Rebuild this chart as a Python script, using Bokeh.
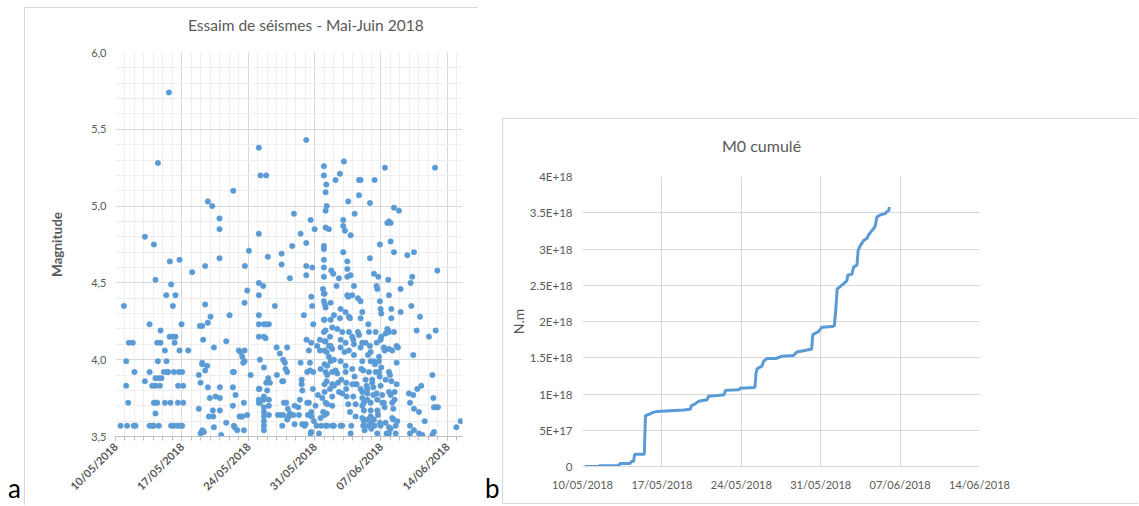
import math
from bokeh.plotting import figure
from bokeh.layouts import row, column
from bokeh.models import FixedTicker, CustomJSTickFormatter, Range1d, Div, Spacer
from bokeh.embed import file_html
from bokeh.resources import INLINE

# ---------------- data ----------------
tick_days = [0, 7, 14, 21, 28, 35]          # days after 10/05/2018
tick_labels = ["10/05/2018", "17/05/2018", "24/05/2018", "31/05/2018", "07/06/2018", "14/06/2018"]

mag_ticks = [3.5, 4.0, 4.5, 5.0, 5.5, 6.0]
m0_ticks = [0, 0.5, 1.0, 1.5, 2.0, 2.5, 3.0, 3.5, 4.0]   # in 1E+18 N.m
m0_tick_labels = ["0", "5E+17", "1E+18", "1.5E+18", "2E+18", "2.5E+18", "3E+18", "3.5E+18", "4E+18"]

# earthquakes: day offset from 10/05/2018, magnitude
quake_day = [
    0.88, 1.13, 1.13, 1.34, 1.41, 1.83, 0.53, 1.23, 1.93, 2.11, 2.00,
    3.10, 3.10, 3.59, 3.59, 3.59, 3.87, 4.05, 4.05, 4.22, 3.87, 4.22, 4.68, 4.05, 4.22, 4.40, 4.22, 4.47, 4.47, 4.40, 4.75, 4.22, 4.57, 4.85, 4.57, 4.75,
    5.21, 5.35, 5.38, 5.10, 5.45, 5.56, 5.21, 5.63, 5.73, 5.87, 6.05, 5.70, 6.05, 6.33, 6.23, 5.80, 5.87, 6.16, 6.51, 6.79, 7.03, 6.33, 6.75, 6.75, 6.16, 6.68, 7.03, 6.61, 7.14, 6.58, 7.14, 6.96, 7.67, 8.09,
    8.79, 8.97, 9.15, 9.32, 8.79, 8.97, 8.90, 9.15, 9.15, 9.15, 9.25, 9.46, 9.46, 9.46, 9.67, 9.74, 9.74, 9.74, 9.85, 9.95, 10.02, 10.20, 10.27, 10.31, 10.38, 10.55, 10.38, 10.97, 10.97, 10.97, 11.01, 11.01, 11.01, 11.15,
    11.68, 11.68, 12.03, 12.42, 12.38, 12.49, 12.38, 12.38, 12.49, 12.56, 12.66, 12.84, 13.01, 13.19, 13.08, 13.26, 13.37, 13.47, 13.61, 13.37, 13.65, 13.61, 13.61, 13.54, 13.54, 13.89, 13.89, 14.07, 14.25,
    15.12, 15.12, 15.12, 15.12, 15.12, 15.12, 15.12, 15.23, 15.12, 15.19, 15.12, 15.23, 15.12, 15.30, 15.90, 15.58, 15.65, 15.90, 16.18, 15.65, 15.83, 15.65, 15.65, 15.65, 15.65, 15.65, 15.65, 15.65, 15.65, 15.65, 15.90, 16.00, 16.07, 16.11, 16.18, 16.18, 16.18, 16.29,
    16.81, 16.99, 17.02, 17.13, 17.34, 17.41, 17.69, 17.52, 17.52, 17.59, 17.69, 17.59, 17.69, 17.76, 17.87, 17.94, 18.01, 18.11, 18.11, 18.11, 18.18, 18.40, 18.29, 18.40, 18.64, 18.75, 18.82, 18.89, 18.89,
    19.28, 19.35, 19.45, 19.52, 19.52, 19.63, 19.63, 19.70, 19.70, 19.87, 19.94, 20.05, 20.12, 20.12, 20.12, 20.12, 20.15, 20.22, 20.22, 20.40, 20.30, 20.40, 20.51, 20.51, 20.58, 20.58, 20.65, 20.65, 20.65, 20.65, 20.68, 20.75, 20.75, 20.82, 20.86, 20.86, 20.93, 21.00, 21.10, 21.21,
    21.28, 21.35, 21.46, 21.56, 21.56, 21.63, 21.63, 21.70, 21.81, 21.88,
    21.91, 21.98, 21.98, 21.98, 21.98, 21.98, 21.98, 21.98, 21.98, 22.05,
    21.98, 22.09, 22.16, 21.98, 22.05, 21.98, 22.16, 22.05, 22.16, 22.05,
    22.27, 22.05, 22.34, 22.16, 22.34, 22.05, 22.27, 22.05, 22.16, 22.34,
    22.05, 22.27, 22.16, 22.34, 22.23, 22.16, 22.27, 22.16, 22.16, 22.51,
    22.51, 22.51, 22.62, 22.62, 22.69, 22.69, 22.86, 22.69, 22.86, 22.69,
    22.76, 22.86, 22.86, 23.04, 22.86, 22.86, 22.86, 23.04, 22.97, 23.04, 23.04,
    23.21, 23.21, 23.39, 23.32, 23.39, 23.46, 23.57, 23.57, 23.67, 23.67,
    23.74, 23.74, 23.74, 23.81, 23.74, 23.92, 23.74, 23.92, 23.92, 24.02,
    24.02, 24.02, 24.20, 24.09, 24.16, 24.27, 24.27, 24.27, 24.27, 24.34,
    24.34, 24.38, 24.45, 24.45, 24.45, 24.45, 24.55, 24.55, 24.55, 24.62,
    24.73, 24.62, 24.62, 24.73, 24.80, 24.80, 24.87, 24.80, 24.97, 24.97,
    25.08, 24.97, 24.97, 25.08, 25.15, 25.15, 25.15, 25.22, 25.22, 25.33,
    25.43, 25.33, 25.33,
    25.68, 25.85, 25.68, 25.57, 25.85, 25.57, 25.68, 25.85, 26.03, 26.03,
    25.85, 26.03, 25.92, 26.13, 25.85, 26.03, 26.03, 26.20, 26.03, 26.20,
    26.03, 26.20, 26.13, 26.27, 26.38, 26.38, 26.49, 26.56, 26.56, 26.56,
    26.56, 26.66, 26.63, 26.73, 26.66, 26.73, 26.84, 26.84, 26.84, 26.91,
    26.91, 26.91, 26.91, 26.91, 26.98, 26.98, 27.08, 27.08, 27.19, 27.19,
    27.26, 27.26, 27.37, 27.26, 27.33, 27.33, 27.44, 27.44, 27.54, 27.61,
    27.54, 27.54, 27.61, 27.61, 27.68, 27.61, 27.72, 27.79, 27.79, 27.79,
    27.86, 27.89, 27.96, 27.89, 27.89, 27.96, 28.03, 27.96, 28.03, 28.03,
    27.96, 28.14, 28.14,
    28.31, 28.39, 28.31, 28.39, 28.42, 28.49, 28.49, 28.49, 28.60, 28.67,
    28.77, 28.84, 28.67, 28.84, 29.02, 28.77, 28.84, 28.84, 28.84, 28.95,
    28.84, 29.02, 28.84, 29.02, 28.84, 29.02, 29.09, 29.09, 29.09, 29.19,
    29.19, 29.30, 29.19, 29.30, 29.37, 29.37, 29.37, 29.44, 29.44, 29.55,
    29.55, 29.65, 29.65, 29.79, 29.65, 29.72, 29.90, 30.07, 30.07,
    30.78, 30.95, 31.06, 31.06, 31.06, 31.13, 31.20, 31.30, 31.41, 31.41,
    31.48, 31.48, 31.48, 31.76, 31.83, 32.01, 32.01, 32.11, 32.25, 32.36,
    32.61, 33.06, 33.42, 33.52, 33.59, 33.77, 34.01, 33.59, 33.42, 33.70,
    33.77, 33.94, 35.95, 36.41,
]
quake_mag = [
    4.35, 3.99, 3.83, 3.72, 4.11, 4.11, 3.57, 3.57, 3.57, 3.57, 3.92,
    4.80, 3.86, 4.23, 3.92, 3.57, 3.57, 3.57, 4.75, 4.52, 3.83, 3.83, 3.83, 3.72, 3.72, 3.72, 3.65, 5.28, 3.99, 4.11, 4.11, 3.88, 3.88, 3.88, 3.57, 4.19,
    4.06, 4.42, 3.99, 3.92, 3.92, 3.92, 3.72, 5.74, 4.64, 4.49, 4.35, 4.15, 4.15, 4.15, 4.11, 3.72, 3.57, 3.57, 3.57, 3.57, 3.57, 4.42, 4.65, 4.06, 3.92, 3.92, 3.92, 3.83, 3.83, 3.72, 3.72, 4.23, 4.06, 4.57,
    3.68, 3.52, 3.54, 3.53, 3.90, 3.85, 4.22, 4.22, 3.98, 3.97, 4.13, 4.36, 4.61, 3.93, 3.96, 5.03, 4.24, 3.82, 3.63, 3.75, 4.28, 5.00, 3.67, 3.63, 4.08, 3.76, 3.56, 4.92, 4.85, 4.66, 3.82, 3.75, 3.67, 3.51,
    4.12, 3.59, 4.29, 5.10, 3.92, 3.92, 3.82, 3.70, 3.57, 3.56, 3.77, 3.54, 4.06, 4.05, 3.63, 3.63, 3.63, 3.98, 3.99, 4.02, 4.61, 4.37, 4.06, 3.72, 3.54, 4.45, 3.64, 4.71, 3.90,
    5.38, 4.82, 4.50, 4.42, 4.29, 4.23, 4.15, 4.00, 3.81, 3.81, 3.74, 3.72, 3.72, 5.20, 5.20, 4.48, 4.23, 4.23, 4.23, 4.15, 4.14, 3.95, 3.76, 3.74, 3.69, 3.66, 3.63, 3.60, 3.57, 3.54, 3.85, 3.80, 4.67, 3.88, 3.74, 3.70, 3.64, 3.85,
    4.35, 4.08, 3.90, 3.64, 4.04, 3.64, 3.64, 4.69, 4.62, 3.86, 3.86, 3.57, 4.00, 3.72, 3.98, 3.94, 3.72, 4.08, 3.92, 3.61, 3.68, 4.53, 3.63, 3.65, 4.74, 3.64, 4.95, 3.70, 3.58,
    3.69, 3.64, 3.74, 4.82, 3.98, 3.87, 3.84, 3.80, 3.58, 4.29, 3.57, 3.58, 5.43, 4.76, 4.61, 4.55, 4.13, 3.92, 3.72, 3.72, 3.64, 4.06, 3.98, 3.93, 4.91, 3.52, 3.53, 4.41, 4.11, 3.66, 3.63, 4.60, 4.35, 3.81, 4.23, 3.92, 3.60, 4.85, 3.70, 3.57,
    4.09, 3.77, 3.52, 4.13, 4.06, 3.94, 3.62, 3.57, 3.75, 4.46,
    3.66, 5.26, 5.20, 4.74, 4.72, 4.65, 4.60, 4.54, 4.43, 4.43,
    4.38, 4.36, 4.34, 4.26, 4.26, 4.18, 4.19, 4.12, 4.12, 4.06,
    4.05, 3.97, 3.96, 3.92, 3.90, 3.84, 3.86, 3.79, 3.72, 3.71,
    3.64, 3.65, 3.57, 3.57, 5.14, 5.09, 5.00, 4.97, 4.86, 4.85,
    4.09, 4.02, 4.15, 3.81, 4.37, 4.26, 4.21, 4.09, 4.07, 3.99,
    4.58, 3.92, 3.84, 3.83, 3.76, 3.70, 3.57, 3.57, 4.56, 4.29, 4.00,
    5.17, 3.93, 3.91, 4.48, 4.20, 3.85, 3.79, 4.53, 5.21, 4.27,
    4.13, 4.08, 3.99, 3.87, 3.57, 3.57, 4.33, 4.18, 3.78, 4.70,
    4.91, 4.87, 4.84, 5.29, 4.05, 4.31, 4.11, 3.96, 3.92, 3.85,
    3.81, 3.76, 4.64, 4.59, 4.54, 4.42, 4.41, 5.03, 3.71, 4.28,
    4.27, 4.18, 4.06, 3.66, 4.81, 4.55, 3.57, 3.52, 4.42, 4.15,
    4.13, 3.94, 3.84, 3.76, 4.48, 4.10, 4.03, 4.95, 3.89, 3.84,
    3.84, 3.71, 3.63,
    5.17, 5.17, 5.07, 4.40, 4.38, 4.18, 4.16, 4.27, 4.31, 4.11,
    4.08, 3.99, 3.94, 3.93, 3.81, 3.79, 3.75, 3.72, 3.70, 3.67,
    3.62, 3.60, 3.57, 3.54, 4.11, 3.87, 3.83, 3.81, 3.78, 3.74,
    3.61, 3.57, 4.03, 4.18, 4.23, 3.92, 5.02, 4.66, 4.09, 4.05,
    3.99, 3.72, 3.67, 3.63, 3.59, 3.55, 3.87, 3.85, 3.82, 3.77,
    4.56, 3.99, 3.97, 3.61, 3.57, 5.17, 4.18, 3.92, 4.48, 4.46,
    4.11, 3.78, 3.74, 3.67, 3.64, 3.52, 4.54, 4.02, 3.99, 3.92,
    3.89, 3.59, 3.57, 4.75, 4.38, 4.33, 4.30, 4.13, 4.15, 3.95,
    3.83, 3.77, 3.72,
    4.08, 4.06, 3.72, 3.69, 5.25, 4.17, 3.87, 3.59, 3.52, 4.20,
    4.19, 4.18, 4.89, 4.90, 4.89, 4.52, 4.42, 4.07, 3.92, 3.90,
    3.79, 3.77, 3.56, 3.55, 3.52, 4.77, 4.33, 4.27, 3.86, 4.06,
    3.72, 3.68, 3.62, 3.61, 4.99, 4.70, 4.18, 3.79, 3.74, 3.57,
    3.52, 3.98, 4.09, 4.08, 3.84, 3.60, 4.97, 4.46, 4.31,
    4.68, 3.78, 3.72, 3.57, 3.52, 4.50, 4.35, 4.54, 4.03, 3.77,
    4.70, 3.68, 3.54, 4.19, 3.81, 3.66, 3.52, 4.28, 3.83, 3.51,
    3.60, 4.15, 3.90, 3.75, 3.69, 3.69, 3.69, 3.53, 3.51, 5.25,
    4.19, 4.58, 3.56, 3.60,
]
assert len(quake_day) == len(quake_mag), (len(quake_day), len(quake_mag))

# cumulative seismic moment (1E+18 N.m) against day offset
m0_day = [0.2, 1.4, 1.5, 3.2, 3.3, 4.2, 4.3, 4.5, 4.6, 5.45,
          5.55, 5.85, 6.3, 6.6, 7.75, 8.9, 9.5, 9.6, 9.9, 10.25,
          11.0, 11.1, 11.9, 12.5, 12.6, 13.8, 13.9, 15.2, 15.3, 15.4,
          15.8, 16.0, 16.3, 17.1, 17.2, 17.6, 18.6, 18.9, 19.6, 20.2,
          20.3, 20.8, 21.1, 22.0, 22.2, 22.35, 22.45, 22.7, 23.0, 23.3,
          23.4, 23.75, 23.9, 24.2, 24.3, 24.5, 24.8, 25.1, 25.2, 25.5,
          25.8, 25.95, 26.25, 26.7, 26.8, 27.0, 27.05]
m0_e18 = [0.0, 0.0, 0.01, 0.01, 0.04, 0.04, 0.07, 0.07, 0.17, 0.17,
          0.70, 0.72, 0.75, 0.76, 0.77, 0.78, 0.79, 0.84, 0.86, 0.90,
          0.92, 0.97, 0.98, 0.99, 1.05, 1.06, 1.08, 1.09, 1.29, 1.35,
          1.38, 1.46, 1.49, 1.49, 1.50, 1.52, 1.53, 1.58, 1.60, 1.62,
          1.82, 1.86, 1.92, 1.93, 1.94, 2.20, 2.45, 2.48, 2.52, 2.56,
          2.64, 2.65, 2.75, 2.78, 2.98, 3.05, 3.12, 3.15, 3.19, 3.25,
          3.31, 3.44, 3.47, 3.49, 3.51, 3.53, 3.58]
assert len(m0_day) == len(m0_e18)

title1 = "Essaim de séismes - Mai-Juin 2018"
title2 = "M0 cumulé"
panel_a = "a"
panel_b = "b"

FONT = "Lato"
GREY = "#595959"
BLUE = "#5b9bd5"
GRID = "#d9d9d9"
LINE = "1px solid #d9d9d9"

# ---------------- left: scatter ----------------
p1 = figure(width=454, height=463, output_backend="svg", toolbar_location=None,
            x_range=Range1d(0, 36.6), y_range=Range1d(3.5, 6.0),
            min_border_left=90, min_border_right=17, min_border_top=10, min_border_bottom=69,
            outline_line_color=None, background_fill_color="white", border_fill_color="white",
            styles={"border-left": LINE})

xa = p1.xaxis[0]
xa.ticker = FixedTicker(ticks=tick_days, minor_ticks=list(range(0, 37)))
xa.formatter = CustomJSTickFormatter(args=dict(labels=tick_labels),
                                     code="return labels[Math.round(tick/7)];")
xa.major_label_orientation = math.pi / 4
xa.major_label_text_font = FONT
xa.major_label_text_font_style = "bold"
xa.major_label_text_font_size = "11px"
xa.major_label_text_color = GREY
xa.major_label_standoff = 4
xa.axis_line_color = "#bfbfbf"
xa.major_tick_line_color = "#bfbfbf"
xa.minor_tick_line_color = "#bfbfbf"
xa.major_tick_in = 0
xa.major_tick_out = 4
xa.minor_tick_in = 0
xa.minor_tick_out = 4

ya = p1.yaxis[0]
ya.ticker = FixedTicker(ticks=mag_ticks, minor_ticks=[round(3.5 + 0.1 * i, 1) for i in range(26)])
ya.formatter = CustomJSTickFormatter(code="return tick.toFixed(1).replace('.', ',');")
ya.axis_line_color = None
ya.major_tick_line_color = None
ya.minor_tick_line_color = None
ya.major_tick_in = 0
ya.major_tick_out = 0
ya.minor_tick_in = 0
ya.minor_tick_out = 0
ya.major_label_text_font = FONT
ya.major_label_text_font_size = "11px"
ya.major_label_text_color = GREY
ya.major_label_standoff = 9
ya.axis_label = "Magnitude"
ya.axis_label_text_font = FONT
ya.axis_label_text_font_style = "bold"
ya.axis_label_text_font_size = "13.5px"
ya.axis_label_text_color = GREY
ya.axis_label_standoff = 23

p1.xgrid.grid_line_color = GRID
p1.ygrid.grid_line_color = GRID
p1.xgrid.minor_grid_line_color = "#eeeeee"
p1.ygrid.minor_grid_line_color = "#eeeeee"

p1.scatter(quake_day, quake_mag, size=5.5, fill_color=BLUE, line_color=BLUE, line_width=0.5)

# ---------------- right: cumulative moment ----------------
p2 = figure(width=636, height=340, output_backend="svg", toolbar_location=None,
            x_range=Range1d(0, 35), y_range=Range1d(0, 4),
            min_border_left=79, min_border_right=160, min_border_top=12, min_border_bottom=38,
            outline_line_color=None, background_fill_color="white", border_fill_color="white",
            styles={"border-left": LINE, "border-bottom": LINE})

xb = p2.xaxis[0]
xb.ticker = FixedTicker(ticks=tick_days)
xb.formatter = CustomJSTickFormatter(args=dict(labels=tick_labels),
                                     code="return labels[Math.round(tick/7)];")
xb.major_label_text_font = FONT
xb.major_label_text_font_size = "11px"
xb.major_label_text_color = GREY
xb.major_label_standoff = 11
xb.axis_line_color = GRID
xb.major_tick_line_color = None
xb.minor_tick_line_color = None
xb.major_tick_in = 0
xb.major_tick_out = 0
xb.minor_tick_in = 0
xb.minor_tick_out = 0

yb = p2.yaxis[0]
yb.ticker = FixedTicker(ticks=m0_ticks)
yb.formatter = CustomJSTickFormatter(args=dict(labels=m0_tick_labels),
                                     code="return labels[Math.round(tick*2)];")
yb.major_label_text_font = FONT
yb.major_label_text_font_size = "11.5px"
yb.major_label_text_color = GREY
yb.major_label_standoff = 10
yb.axis_line_color = None
yb.major_tick_line_color = None
yb.minor_tick_line_color = None
yb.major_tick_in = 0
yb.major_tick_out = 0
yb.minor_tick_in = 0
yb.minor_tick_out = 0
yb.axis_label = "N.m"
yb.axis_label_text_font = FONT
yb.axis_label_text_font_style = "normal"
yb.axis_label_text_font_size = "14px"
yb.axis_label_text_color = GREY
yb.axis_label_standoff = 0

p2.xgrid.grid_line_color = GRID
p2.ygrid.grid_line_color = GRID

p2.line(m0_day, m0_e18, line_width=3, line_color=BLUE)

# ---------------- titles, panel letters and layout ----------------
def heading(t, w, h, pad_left, pad_top, size):
    html = (f'<div style="font-family:Lato;font-size:{size}px;line-height:20px;color:{GREY};'
            f'white-space:nowrap;padding-left:{pad_left}px;padding-top:{pad_top}px">{t}</div>')
    return Div(text=html, width=w, height=h, margin=0,
               styles={"border-left": LINE, "border-top": LINE})

def letter(t, pad, w):
    html = (f'<div style="font-family:Lato;font-size:26px;line-height:32px;color:black;'
            f'padding-left:{pad}px">{t}</div>')
    return Div(text=html, width=w, height=32, margin=0)

head1 = heading(title1, 454, 35, 163, 7, 15.5)
head2 = heading(title2, 636, 46, 219, 17, 16)

col_a = column(Spacer(width=24, height=472), letter(panel_a, 8, 24), width=24)
col_p1 = column(Spacer(width=455, height=7), head1, p1, width=455)
col_b = column(Spacer(width=23, height=472), letter(panel_b, 6, 23), width=23)
col_p2 = column(Spacer(width=637, height=118), head2, p2, width=637)

layout = row(col_a, col_p1, col_b, col_p2)
open("out.html", "w").write(file_html(layout, INLINE))
